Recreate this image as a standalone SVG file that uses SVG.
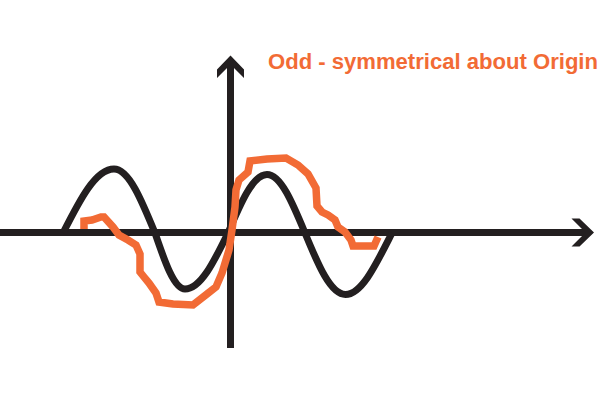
<svg xmlns="http://www.w3.org/2000/svg" width="600" height="400" viewBox="0 0 600 400">
<style>
.axis{stroke:#231F20;stroke-width:7;fill:none}
.head{fill:#231F20}
.sine{stroke:#231F20;stroke-width:7;fill:none;stroke-linecap:butt}
.odd{stroke:#F26B35;stroke-width:7.5;fill:none;stroke-linejoin:miter;stroke-miterlimit:3}
.label{font-family:"Liberation Sans",Arial,sans-serif;font-weight:bold;font-size:22px;fill:#F26B35}
</style>
<rect width="600" height="400" fill="#FFFFFF"/>
<g id="axes">
<line class="axis" x1="0" y1="232.5" x2="588" y2="232.5"/>
<polygon class="head" points="594,232.5 579.5,218.5 571.5,218.5 585.5,232.5 571.5,246.5 579.5,246.5"/>
<line class="axis" x1="230.5" y1="62" x2="230.5" y2="348"/>
<polygon class="head" points="230.5,55.5 244,69.5 244,78 230.5,64.5 217,78 217,69.5"/>
</g>
<g id="sine-curve">
<path class="sine" d="M63,233 C79.6,200.2 95.5,169 114,169 C128.8,169 141.6,200.2 155,233 C164.8,261.7 174.1,289 185,289 C200.6,289 214,261.7 228,233 C240.7,203 252.9,174.5 267,174.5 C280.8,174.5 292.6,203 305,233 C318,264.5 330.5,294.5 345.5,294.5 C362,294.5 376.7,263 392,233"/>
</g>
<g id="odd-curve">
<polyline class="odd" points="84,229 84,221 92,220 101,217 104,217 113,227 119,235 128,240 136,245 140,254 140,272 144,277 149,283 156,293 159,302 173,304 193,305 207,294 216,287 222,273 229,250 232,230 235,207 236,190 239,180 248,172 250,161 267,159 286,158 298,165 308,174 316,188 317,206 322,212 328,215 335,220 338,227 345,232 351,240 353,246 374,246 378,237"/>
</g>
<g id="title">
<text class="label" x="268" y="69" textLength="330" lengthAdjust="spacingAndGlyphs">Odd - symmetrical about Origin</text>
</g>
</svg>
